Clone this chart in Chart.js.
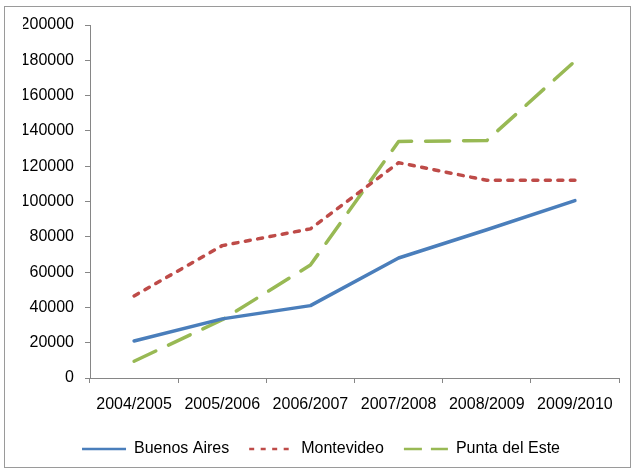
<!DOCTYPE html>
<html>
<head>
<meta charset="utf-8">
<script src="https://cdn.jsdelivr.net/npm/chart.js@4"></script>
<style>
  html, body { margin: 0; padding: 0; background: #fff; }
  #frame { position: absolute; left: 4px; top: 6px; width: 625px; height: 460px; border: 1px solid #9a9a9a; }
  canvas { display: block; }
</style>
</head>
<body>
<div id="frame"><canvas id="chart" width="625" height="460"></canvas></div>
<script>
const seasons = ['2004/2005', '2005/2006', '2006/2007', '2007/2008', '2008/2009', '2009/2010'];
const buenosAires = [21000, 33500, 41000, 68000, 84000, 100500];
const montevideo = [46500, 75000, 84500, 122000, 112000, 112000];
const puntaDelEste = [9500, 33000, 64000, 134000, 134500, 179500];

const FONT = { family: 'Liberation Sans', size: 16 };
const AXIS = '#868686';

// legend samples are drawn thinner than the plotted lines
const legendDash = [[], [5, 6.5], [18, 9]];

const series = (label, data, color, dash) => ({
  label, data,
  borderColor: color, backgroundColor: color,
  borderWidth: 3.5, borderDash: dash, borderCapStyle: 'round', borderJoinStyle: 'round',
  pointRadius: 0, pointStyle: 'line', tension: 0, fill: false,
});

new Chart(document.getElementById('chart'), {
  type: 'line',
  data: {
    labels: seasons,
    datasets: [
      series('Buenos Aires', buenosAires, '#4A7EBB', []),
      series('Montevideo', montevideo, '#BE4B48', [5, 7.5]),
      series('Punta del Este', puntaDelEste, '#98B954', [24, 14]),
    ],
  },
  options: {
    responsive: false,
    animation: false,
    layout: { padding: { left: 18, right: 11, top: 18, bottom: 0 } },
    plugins: {
      tooltip: { enabled: false },
      legend: {
        position: 'bottom',
        labels: {
          usePointStyle: true, pointStyleWidth: 44, padding: 20,
          color: '#000', font: FONT,
          generateLabels: (chart) =>
            Chart.defaults.plugins.legend.labels.generateLabels(chart).map((l, i) => ({
              ...l, lineWidth: 2.5, lineDash: legendDash[i], lineCap: 'butt',
            })),
        },
      },
    },
    scales: {
      x: {
        offset: true,
        border: { color: AXIS, width: 1 },
        grid: { offset: true, drawOnChartArea: false, tickLength: 5, color: AXIS },
        ticks: { color: '#000', font: FONT, padding: 12, maxRotation: 0 },
        afterFit: (s) => { s.height = 43; },
      },
      y: {
        min: 0, max: 200000,
        border: { color: AXIS, width: 1 },
        grid: { drawOnChartArea: false, tickLength: 5, color: AXIS },
        ticks: { stepSize: 20000, color: '#000', font: FONT, padding: 11, callback: (v) => String(v) },
        afterFit: (s) => { s.width = 67; s.paddingTop = 0; },
      },
    },
  },
});
</script>
</body>
</html>
